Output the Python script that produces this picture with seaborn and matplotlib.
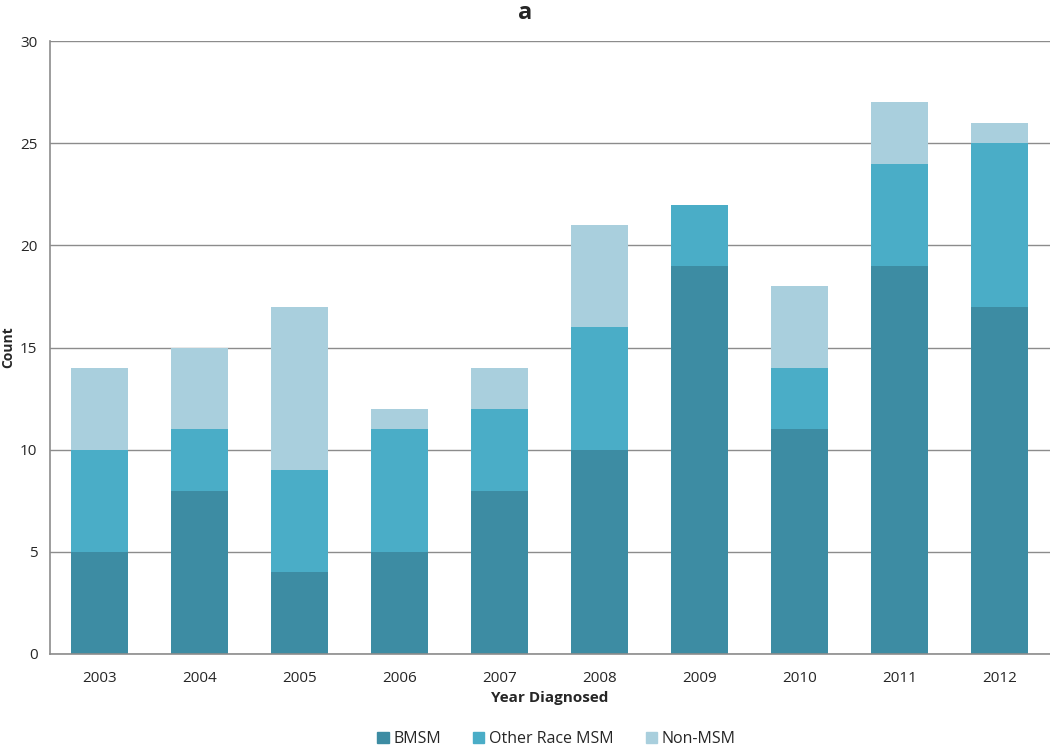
import pandas as pd
import matplotlib.pyplot as plt
import seaborn as sns
from matplotlib.patches import Patch

years = ["2003", "2004", "2005", "2006", "2007", "2008", "2009", "2010", "2011", "2012"]
bmsm = [5, 8, 4, 5, 8, 10, 19, 11, 19, 17]
other_msm = [5, 3, 5, 6, 4, 6, 3, 3, 5, 8]
non_msm = [4, 4, 8, 1, 2, 5, 0, 4, 3, 1]

colors = {"BMSM": "#3d8ca3", "Other Race MSM": "#4aadc7", "Non-MSM": "#a9cfdd"}

df = pd.DataFrame({"Year": years, "BMSM": bmsm, "Other Race MSM": other_msm, "Non-MSM": non_msm})
df["lvl2"] = df["BMSM"] + df["Other Race MSM"]
df["lvl3"] = df["lvl2"] + df["Non-MSM"]

sns.set_style("white")
plt.rcParams["font.family"] = ["Open Sans", "DejaVu Sans"]

fig = plt.figure(figsize=(10.5, 7.48), dpi=100)
ax = fig.add_axes([0.0476, 0.1257, 0.9524, 0.8193])

# stacked bars: draw totals first, then lower levels on top
for col, key in [("lvl3", "Non-MSM"), ("lvl2", "Other Race MSM"), ("BMSM", "BMSM")]:
    sns.barplot(data=df, x="Year", y=col, color=colors[key], width=0.57, ax=ax,
                saturation=1, linewidth=0, edgecolor="none")

ax.set_ylim(0, 30)
ax.set_xlim(-0.5, 9.5)
ax.set_yticks(range(0, 31, 5))
ax.yaxis.grid(True, color="#8c8c8c", linewidth=1)
ax.set_axisbelow(True)
for s in ["top", "right"]:
    ax.spines[s].set_visible(False)
for s in ["left", "bottom"]:
    ax.spines[s].set_color("#8c8c8c")
    ax.spines[s].set_linewidth(1.2)
ax.tick_params(axis="both", length=0, labelsize=11, pad=12)
ax.tick_params(axis="y", pad=9)

ax.set_xlabel("Year Diagnosed", fontsize=11, fontweight="bold", labelpad=4)
ax.set_ylabel("Count", fontsize=10, fontweight="bold")
ax.yaxis.set_label_coords(-0.035, 0.5)
fig.text(0.5, 0.998, "a", ha="center", va="top", fontsize=17, fontweight="bold")

handles = [Patch(color=colors[k], label=k) for k in ["BMSM", "Other Race MSM", "Non-MSM"]]
fig.legend(handles=handles, loc="lower center", bbox_to_anchor=(0.53, -0.018), ncol=3, frameon=False,
           fontsize=11.5, handlelength=0.7, handleheight=0.7, handletextpad=0.3, columnspacing=2.0)

fig.savefig("out.png", dpi=100)
